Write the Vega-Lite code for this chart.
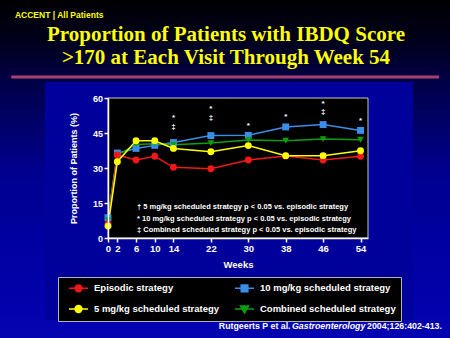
{
  "$schema": "https://vega.github.io/schema/vega-lite/v6.json",
  "autosize": {"type": "none"},
  "width": 260,
  "height": 140,
  "padding": {"left": 108, "top": 98, "right": 82, "bottom": 100},
  "background": "#000060",
  "config": {
    "view": {"stroke": null},
    "font": "Liberation Sans",
    "axis": {
      "grid": false,
      "domainColor": "#FFFFFF", "domainWidth": 1.5,
      "tickColor": "#FFFFFF", "tickWidth": 1.5, "tickSize": 4,
      "labelColor": "#FFFFFF", "labelFont": "Liberation Sans", "labelFontWeight": "bold",
      "labelPadding": 1.5,
      "titleColor": "#FFFFFF", "titleFont": "Liberation Sans", "titleFontWeight": "bold"
    },
    "axisX": {"labelFontSize": 9.5, "titleFontSize": 9.5, "titlePadding": 6},
    "axisY": {"labelFontSize": 9, "titleFontSize": 9, "titlePadding": 14}
  },
  "title": {
    "text": ["Proportion of Patients with IBDQ Score", ">170 at Each Visit Through Week 54"],
    "font": "Liberation Serif",
    "fontWeight": "bold",
    "fontSize": 21,
    "lineHeight": 23,
    "color": "#FFFF00",
    "anchor": "middle",
    "frame": "group",
    "baseline": "bottom",
    "dx": -12,
    "offset": -91
  },
  "data": {
    "values": [
      {"series": "10 mg/kg scheduled strategy", "week": 0, "pct": 8.7},
      {"series": "10 mg/kg scheduled strategy", "week": 2, "pct": 36.4},
      {"series": "10 mg/kg scheduled strategy", "week": 6, "pct": 38.4},
      {"series": "10 mg/kg scheduled strategy", "week": 10, "pct": 39.7},
      {"series": "10 mg/kg scheduled strategy", "week": 14, "pct": 40.9},
      {"series": "10 mg/kg scheduled strategy", "week": 22, "pct": 43.9},
      {"series": "10 mg/kg scheduled strategy", "week": 30, "pct": 44.0},
      {"series": "10 mg/kg scheduled strategy", "week": 38, "pct": 47.6},
      {"series": "10 mg/kg scheduled strategy", "week": 46, "pct": 48.6},
      {"series": "10 mg/kg scheduled strategy", "week": 54, "pct": 46.1},
      {"series": "Combined scheduled strategy", "week": 0, "pct": 7.6},
      {"series": "Combined scheduled strategy", "week": 2, "pct": 35.5},
      {"series": "Combined scheduled strategy", "week": 6, "pct": 40.1},
      {"series": "Combined scheduled strategy", "week": 10, "pct": 40.4},
      {"series": "Combined scheduled strategy", "week": 14, "pct": 40.0},
      {"series": "Combined scheduled strategy", "week": 22, "pct": 40.7},
      {"series": "Combined scheduled strategy", "week": 30, "pct": 42.0},
      {"series": "Combined scheduled strategy", "week": 38, "pct": 41.7},
      {"series": "Combined scheduled strategy", "week": 46, "pct": 42.4},
      {"series": "Combined scheduled strategy", "week": 54, "pct": 42.1},
      {"series": "Episodic strategy", "week": 0, "pct": 6.0},
      {"series": "Episodic strategy", "week": 2, "pct": 35.6},
      {"series": "Episodic strategy", "week": 6, "pct": 33.4},
      {"series": "Episodic strategy", "week": 10, "pct": 35.0},
      {"series": "Episodic strategy", "week": 14, "pct": 30.3},
      {"series": "Episodic strategy", "week": 22, "pct": 29.7},
      {"series": "Episodic strategy", "week": 30, "pct": 33.4},
      {"series": "Episodic strategy", "week": 38, "pct": 35.1},
      {"series": "Episodic strategy", "week": 46, "pct": 33.4},
      {"series": "Episodic strategy", "week": 54, "pct": 35.0},
      {"series": "5 mg/kg scheduled strategy", "week": 0, "pct": 5.1},
      {"series": "5 mg/kg scheduled strategy", "week": 2, "pct": 32.7},
      {"series": "5 mg/kg scheduled strategy", "week": 6, "pct": 41.7},
      {"series": "5 mg/kg scheduled strategy", "week": 10, "pct": 41.7},
      {"series": "5 mg/kg scheduled strategy", "week": 14, "pct": 38.4},
      {"series": "5 mg/kg scheduled strategy", "week": 22, "pct": 37.0},
      {"series": "5 mg/kg scheduled strategy", "week": 30, "pct": 39.6},
      {"series": "5 mg/kg scheduled strategy", "week": 38, "pct": 35.3},
      {"series": "5 mg/kg scheduled strategy", "week": 46, "pct": 35.3},
      {"series": "5 mg/kg scheduled strategy", "week": 54, "pct": 37.4}
    ]
  },
  "layer": [
    {
      "data": {"values": [{}]},
      "mark": {"type": "rect", "clip": false, "fill": {"gradient": "linear", "x1": 0, "y1": 0, "x2": 0, "y2": 1, "stops": [{"offset": 0, "color": "#000000"}, {"offset": 0.12, "color": "#00001A"}, {"offset": 0.25, "color": "#000048"}, {"offset": 0.5, "color": "#00008E"}, {"offset": 0.75, "color": "#0000A4"}, {"offset": 1, "color": "#0404B2"}]}},
      "encoding": {
        "x": {"datum": -24, "type": "quantitative", "scale": {"domain": [0, 55.6], "nice": false, "zero": false}},
        "x2": {"datum": 74},
        "y": {"datum": 103, "type": "quantitative", "scale": {"domain": [0, 60], "nice": false}},
        "y2": {"datum": -44}
      }
    },
    {
      "data": {"values": [{}]},
      "mark": {"type": "rect", "clip": false, "fill": "#00009A"},
      "encoding": {
        "x": {"datum": -13.5, "type": "quantitative"},
        "x2": {"datum": 65.2},
        "y": {"datum": 66.9, "type": "quantitative"},
        "y2": {"datum": -35.1}
      }
    },
    {
      "data": {"values": [{}]},
      "mark": {"type": "rule", "clip": false, "stroke": "#A8406F", "strokeWidth": 3},
      "encoding": {
        "x": {"datum": -20.7, "type": "quantitative"},
        "x2": {"datum": 70.8},
        "y": {"datum": 69, "type": "quantitative"}
      }
    },
    {
      "data": {"values": [{}]},
      "mark": {"type": "rect", "clip": false, "fill": "#000000", "stroke": "#C8C8C8", "strokeWidth": 1},
      "encoding": {
        "x": {"datum": 0, "type": "quantitative"},
        "x2": {"datum": 55.6},
        "y": {"datum": 0, "type": "quantitative"},
        "y2": {"datum": 60}
      }
    },
    {
      "mark": {"type": "line", "strokeWidth": 1.5},
      "encoding": {
        "x": {
          "field": "week", "type": "quantitative",
          "scale": {"domain": [0, 55.6], "nice": false, "zero": false},
          "axis": {"values": [0, 2, 6, 10, 14, 22, 30, 38, 46, 54], "tickCount": 30, "title": "Weeks", "zindex": 1, "labelOverlap": false, "labelFlush": false}
        },
        "y": {
          "field": "pct", "type": "quantitative",
          "scale": {"domain": [0, 60], "nice": false},
          "axis": {"values": [0, 15, 30, 45, 60], "tickCount": 30, "title": "Proportion of Patients (%)", "zindex": 1, "labelOverlap": false, "labelFlush": false}
        },
        "color": {
          "field": "series", "type": "nominal",
          "scale": {
            "domain": ["Episodic strategy", "10 mg/kg scheduled strategy", "5 mg/kg scheduled strategy", "Combined scheduled strategy"],
            "range": ["#F01818", "#3A8EE8", "#FFFF00", "#0E9E0E"]
          },
          "legend": {
            "title": null,
            "orient": "none",
            "legendX": -50,
            "legendY": 179,
            "columns": 2,
            "direction": "horizontal",
            "fillColor": "#000000",
            "strokeColor": "#B4B4B4",
            "padding": 5,
            "columnPadding": 9,
            "rowPadding": 7,
            "labelColor": "#FFFFFF",
            "labelFont": "Liberation Sans",
            "labelFontWeight": "bold",
            "labelFontSize": 9.5,
            "labelOffset": 19,
            "symbolSize": 100,
            "symbolStrokeWidth": 1.5,
            "encode": {
              "symbols": {
                "update": {
                  "shape": {"signal": "datum.value == '10 mg/kg scheduled strategy' ? 'M0,0H3.8M1.24,-0.66H2.56V0.66H1.24Z' : datum.value == 'Combined scheduled strategy' ? 'M0,0H3.8M1.1,-0.6H2.7L1.9,0.8Z' : 'M0,0H3.8M2.58,0A0.68,0.68,0,1,1,1.22,0A0.68,0.68,0,1,1,2.58,0Z'"},
                  "fill": {"scale": "color", "field": "value"},
                  "stroke": {"scale": "color", "field": "value"},
                  "strokeWidth": {"value": 1.5},
                  "size": {"value": 100},
                  "opacity": {"value": 1},
                  "fillOpacity": {"value": 1},
                  "strokeOpacity": {"value": 1}
                }
              }
            }
          }
        }
      }
    },
    {
      "transform": [{"filter": "datum.series == '10 mg/kg scheduled strategy'"}],
      "mark": {"type": "point", "filled": true, "shape": "square", "size": 48, "opacity": 1, "strokeWidth": 0},
      "encoding": {
        "x": {"field": "week", "type": "quantitative"},
        "y": {"field": "pct", "type": "quantitative"},
        "color": {"field": "series", "type": "nominal", "legend": null}
      }
    },
    {
      "transform": [{"filter": "datum.series == 'Combined scheduled strategy'"}],
      "mark": {"type": "point", "filled": true, "shape": "triangle-down", "size": 45, "opacity": 1, "strokeWidth": 0},
      "encoding": {
        "x": {"field": "week", "type": "quantitative"},
        "y": {"field": "pct", "type": "quantitative"},
        "color": {"field": "series", "type": "nominal", "legend": null}
      }
    },
    {
      "transform": [{"filter": "datum.series == 'Episodic strategy' || datum.series == '5 mg/kg scheduled strategy'"}],
      "mark": {"type": "point", "filled": true, "shape": "circle", "size": 48, "opacity": 1, "strokeWidth": 0},
      "encoding": {
        "x": {"field": "week", "type": "quantitative"},
        "y": {"field": "pct", "type": "quantitative"},
        "color": {"field": "series", "type": "nominal", "legend": null}
      }
    },
    {
      "data": {
        "values": [
          {"sym": "*", "week": 14, "pct": 51.6},
          {"sym": "‡", "week": 14, "pct": 47.6},
          {"sym": "*", "week": 22, "pct": 55.1},
          {"sym": "‡", "week": 22, "pct": 51.4},
          {"sym": "*", "week": 30, "pct": 48.0},
          {"sym": "*", "week": 38, "pct": 51.7},
          {"sym": "*", "week": 46, "pct": 57.3},
          {"sym": "‡", "week": 46, "pct": 54.0},
          {"sym": "*", "week": 54, "pct": 50.3}
        ]
      },
      "mark": {"type": "text", "color": "#FFFFFF", "fontSize": 8, "fontWeight": "bold", "baseline": "middle", "align": "center"},
      "encoding": {
        "x": {"field": "week", "type": "quantitative"},
        "y": {"field": "pct", "type": "quantitative"},
        "text": {"field": "sym"}
      }
    },
    {
      "data": {
        "values": [
          {"note": "† 5 mg/kg scheduled strategy p < 0.05 vs. episodic strategy", "week": 6.2, "pct": 13.2},
          {"note": "* 10 mg/kg scheduled strategy p < 0.05 vs. episodic strategy", "week": 6.2, "pct": 8.2},
          {"note": "‡ Combined scheduled strategy p < 0.05 vs. episodic strategy", "week": 6.2, "pct": 3.6}
        ]
      },
      "mark": {"type": "text", "color": "#FFFFFF", "fontSize": 7.5, "fontWeight": "bold", "baseline": "middle", "align": "left"},
      "encoding": {
        "x": {"field": "week", "type": "quantitative"},
        "y": {"field": "pct", "type": "quantitative"},
        "text": {"field": "note"}
      }
    },
    {
      "data": {"values": [{}]},
      "mark": {"type": "text", "clip": false, "text": "ACCENT | All Patients", "color": "#FFFF00", "fontSize": 8.5, "fontWeight": "bold", "align": "left", "baseline": "alphabetic"},
      "encoding": {
        "x": {"datum": -19.9, "type": "quantitative"},
        "y": {"datum": 94.1, "type": "quantitative"}
      }
    },
    {
      "data": {"values": [{}]},
      "mark": {"type": "text", "clip": false, "text": "Rutgeerts P et al.", "color": "#FFFFFF", "fontSize": 8.8, "fontWeight": "bold", "align": "left", "baseline": "alphabetic"},
      "encoding": {
        "x": {"datum": 23.7, "type": "quantitative"},
        "y": {"datum": -38.8, "type": "quantitative"}
      }
    },
    {
      "data": {"values": [{}]},
      "mark": {"type": "text", "clip": false, "text": "Gastroenterology", "color": "#FFFFFF", "fontSize": 8.8, "fontWeight": "bold", "fontStyle": "italic", "align": "left", "baseline": "alphabetic"},
      "encoding": {
        "x": {"datum": 39.35, "type": "quantitative"},
        "y": {"datum": -38.8, "type": "quantitative"}
      }
    },
    {
      "data": {"values": [{}]},
      "mark": {"type": "text", "clip": false, "text": "2004;126:402-413.", "color": "#FFFFFF", "fontSize": 8.8, "fontWeight": "bold", "align": "right", "baseline": "alphabetic"},
      "encoding": {
        "x": {"datum": 71.4, "type": "quantitative"},
        "y": {"datum": -38.8, "type": "quantitative"}
      }
    }
  ]
}
